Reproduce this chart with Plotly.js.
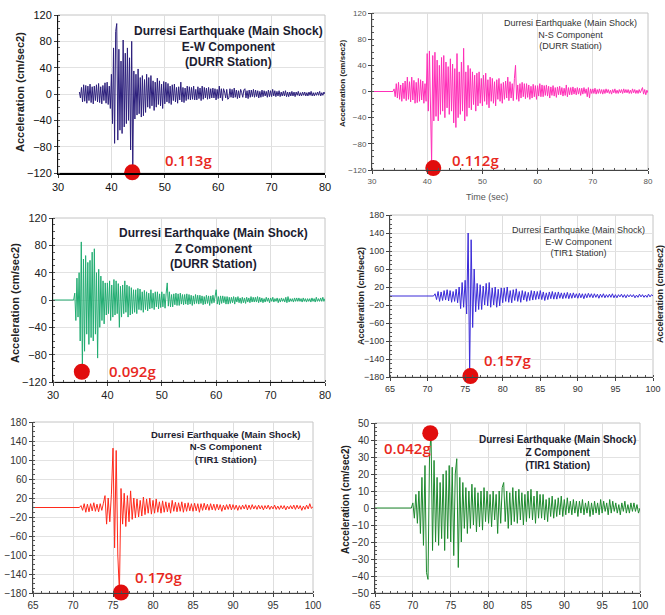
<!DOCTYPE html>
<html><head><meta charset="utf-8">
<script src="https://cdn.plot.ly/plotly-3.0.1.min.js"></script>
<style>html,body{margin:0;padding:0;background:#fff}#chart{width:665px;height:615px}</style>
</head><body><div id="chart"></div>
<script>
// Acceleration records (cm/sec2), sampled every 0.2 s
const durrEW = [
3,-6,10,-12,14, -11,13,-14,12,-10, 15,-13,11,-15,12, -10,14,-12,16,-13, 11,-15,13,-10,17, -14,18,-16,12,-22,
30,-45,70,-75,95, 107,-70,68,-55,50, -60,82,-50,62,-45, 70,-40,55,-85,80, -118,35,-38,30,-32,
38,-30,25,-35,28, -33,22,-28,30,-20, 25,-22,28,-18,20, -25,18,-20,24,-16, 20,-18,15,-22,19,
-15,18,-12,16,-14, 12,-16,14,-10,15, -12,10,-14,11,-9, 18,-12,10,-13,9, -10,12,-8,11,-9,
10,-8,12,-9,7, -9,11,-7,9,-10, 12,-8,10,-6,9, -8,10,-7,8,-6, 9,-6,8,-9,7,
-7,12,-6,8,-10, 8,3,-6,7,-8, -6,8,-5,7,-6, 9,-5,6,-7,5, -6,7,2,-5,6,
8,-6,5,-7,6, -5,6,-4,7,-5, 6,-4,5,-6,4, -5,6,-4,5,-3, 4,-5,6,-4,5,
-4,7,-3,5,-4, 4,-3,5,-4,3, -3,4,-3,5,-4, 3,-4,3,-3,4, -3,3,-4,3,-2,
4,-3,2,-3,3, -2,3,-3,2,-3, 3,-2,4,-3,2, -3,2,-2,3,-2, 4,-3,2,-2,3, 0];
const durrNS = [
0,0,0,0,0, 0,0,0,0,0, 0,0,0,0,0, 0,0,0,0,0,
4,-8,12,-10,14, -12,10,-15,13,-11, 16,-14,22,-12,15, -16,22,-13,17,-18, 14,-17,20,-15,18, -13,16,-18,12,-15,
58,-30,62,-50,-110, 55,-45,60,-38,48, -45,40,-35,52,-30, 55,-40,45,-25,38, -35,50,-30,42,-48,
35,-55,58,-40,30, -35,45,-30,66,-45, 30,-38,40,-25,35, -28,30,-20,25,-30, 28,-22,30,-18,20,
-22,25,-15,28,-20, 18,-25,22,-15,20, -18,15,-22,18,-12, 20,-15,12,-18,14, -12,16,-10,22,-14,
15,-10,12,-14,20, 40,-12,10,-15,12, -10,14,-8,12,-11, 12,-9,10,-12,8, -10,11,-8,9,-12,
9,-7,12,-8,10, -8,9,-6,10,-7, 8,-10,7,-6,9, -7,6,-9,7,-5, 8,-5,6,-7,5,
-6,10,-8,6,-5, 6,-5,7,-4,5, -5,6,-4,5,-6, 5,-4,6,-3,4, -8,6,-10,4,-3,
4,-3,5,-4,3, -3,4,-3,3,-4, 3,-3,4,-2,3, -3,2,-4,3,-2, 4,-3,2,-3,3,
-2,3,-3,4,-2, 3,-2,3,-3,2, -3,4,-2,3,-3, 2,-3,3,-2,4, 6,-4,3,-5,2, -2];
const durrZ = [
0,0,0,0,0, 0,0,0,0,0, 0,0,0,0,0, 0,0,0,0,0,
10,-30,32,-25,40, -60,85,-105,60,-75, 65,-50,55,-65,58, -55,70,-60,75,-50, 40,-85,45,-40,35, -30,28,-35,25,-22,
25,-20,28,-30,22, -25,30,-22,28,-20, 24,-40,20,-25,22, -20,28,-18,22,-25, 20,-22,18,-20,15,
-18,15,-20,17,-14, 16,-15,12,-18,14, -14,12,-16,10,-13, 15,-12,10,-14,12, -10,12,-13,9,-11,
12,-10,9,-12,10, 25,-9,12,-10,8, -10,9,-7,10,-8, 9,-8,10,-6,8, -7,8,-6,9,-7,
8,-6,7,-8,6, -6,8,-5,7,-6, 7,-5,6,-7,5, -6,7,-5,6,-8, 6,-5,7,-4,5,
15,-6,5,-7,6, -5,6,-4,5,-6, 5,-6,4,-5,4, -4,5,-6,4,-3, 5,-4,3,-5,4,
-4,3,-5,4,-3, 3,-4,5,-3,4, -3,4,-3,5,-4, 4,-3,3,-4,2, -3,4,-2,3,-4,
3,-2,4,-3,2, -2,3,-4,2,-3, 3,-2,2,-3,4, -4,5,-3,2,-2, 2,-3,3,-2,3,
-2,3,-2,2,-3, 3,-2,2,-3,2, -2,2,-3,3,-2, 2,-3,4,-2,2, -2,3,-2,4,-2, 2];
const tir1EW = [
0,0,0,0,0, 0,0,0,0,0, 0,0,0,0,0, 0,0,0,0,0, 0,0,0,0,0, 0,0,0,0,0,
5,-8,10,-12,9, -10,12,-9,14,-11, 12,-14,10,-12,15, -15,20,-28,30,-25,
35,-40,140,-175,125, -70,60,-35,28,-30, 25,-30,22,-20,28, -22,30,-25,18,-20, 20,-25,15,-22,18,
-15,18,-12,20,-14, 12,-15,14,-10,16, -12,10,-14,12,-9, 10,-12,8,-10,12, -9,11,-8,10,-7,
12,-8,9,-10,7, -8,9,-6,10,-7, 8,-7,9,-5,7, -6,7,-5,8,-6, 6,-5,7,-4,5,
-5,6,-4,5,-6, 5,-4,6,-3,5, -4,5,-3,4,-5, 4,-3,5,-4,3, -3,4,-3,5,-4,
3,-4,3,-2,4, -3,3,-4,3,-2, 3,-2,3,-4,2, -3,4,-2,3,-3, 2,-3,4,-2,3, 0];
const tir1NS = [
0,0,0,0,0, 0,0,0,0,0, 0,0,0,0,0, 0,0,0,0,0, 0,0,0,0,0, 0,0,0,0,0,
4,-6,8,-10,7, -9,8,-7,10,-8, 7,-9,8,-6,9, 25,-35,20,-30,28,
125,-85,120,-100,-178, 40,-35,30,-40,25, -30,35,-25,20,-22, 18,-20,15,-18,22, -15,18,-12,20,-14,
15,-12,18,-10,12, -12,14,-10,12,-9, 10,-12,15,-8,11, -9,10,-8,12,-10, 9,-8,10,-7,8,
-8,9,-7,8,-10, 8,-6,9,-5,7, -6,8,-5,7,-6, 7,-5,6,-8,5, -5,6,-4,7,-5,
6,-4,5,-6,4, -4,5,-3,6,-5, 5,-4,6,-3,4, -4,5,-3,4,-5, 4,-3,5,-4,3,
-3,5,-4,3,-4, 4,-3,4,-5,3, -3,4,-3,5,-4, 5,-3,4,-6,3, -4,5,-3,8,-2, 2];
const tir1Z = [
0,0,0,0,0, 0,0,0,0,0, 0,0,0,0,0, 0,0,0,0,0, 0,0,0,0,0,
3,-6,8,-9,10, -15,18,-22,25,-38, -42,30,44,-25,28, -20,18,-22,15,-18, 20,-25,22,-18,25,
-20,24,-28,20,29, -35,18,-20,15,-12, 12,-15,10,-12,14, -10,12,-14,9,-11, 10,-13,12,-8,10,
-9,8,-11,10,-7, 8,-15,10,-9,12, 15,-8,10,-12,9, -10,12,-8,10,-9, 11,-7,9,-10,8,
-8,10,-6,11,-7, 7,-9,10,-6,8, -6,8,-7,5,-8, 6,-5,7,-6,5, -5,6,-4,7,-5,
5,-4,6,-3,4, -4,5,-3,4,-5, 4,-3,5,-4,3, -3,4,-5,3,-4, 4,-3,3,-4,5,
-3,4,-2,3,-4, 5,-3,4,-2,3, -3,2,-4,3,-2, 4,-3,2,-3,3, -2,3,-2,2,-3, 0];

const series = [durrEW, durrNS, durrZ, tir1EW, tir1NS, tir1Z];
const startTimes = [34, 30, 30, 65, 65, 65];
const components = ["E-W Component", "N-S Component", "Z Component", "E-W Component", "N-S Component", "Z Component"];
const stations = ["(DURR Station)", "(DURR Station)", "(DURR Station)", "(TIR1 Station)", "(TIR1 Station)", "(TIR1 Station)"];
const pgaLabels = ["0.113g", "0.112g", "0.092g", "0.157g", "0.179g", "0.042g"];
const pgaTime = [43.9, 41.1, 35.3, 75.7, 76.0, 72.3];
const pgaAcc = [-119, -117, -105, -178, -179, 44];
const pgaLabelTime = [49.7, 44.1, 39.9, 77.3, 77.5, 65.9];
const pgaLabelAcc = [-100, -105, -104, -142, -146, 35];
const xRanges = [[30, 80], [30, 80], [30, 80], [65, 100], [65, 100], [65, 100]];
const yRanges = [[-120, 120], [-120, 120], [-120, 120], [-180, 180], [-180, 180], [-50, 50]];
const yTickStep = [40, 40, 40, 40, 40, 10];
const xTickStep = [10, 10, 10, 5, 5, 5];

// ---------- presentation ----------
const W = 665, H = 615;
const colors = ["#2c1f7c", "#ff2fb8", "#22ad72", "#3a2ad8", "#ff2a1c", "#1e8a2e"];
const boxes = [ // pixel boxes [x0,x1,y0,y1]
  [58, 325, 15, 173], [372, 648, 13, 170], [53, 325, 218, 382],
  [390, 653, 215, 377], [33, 313, 422, 593], [375, 640, 423, 593]];
const tickSize = [11, 8, 11, 9, 10, 10];
const tickColor = ["#111", "#555", "#222", "#333", "#333", "#333"];
const axisLine = ["#111", "#444", "#111", "#444", "#444", "#444"];
const xGrid = [true, true, true, true, true, true];
const yGrid = [true, false, true, true, true, true];

const data = [];
const layout = {width: W, height: H, autosize: false, margin: {l: 0, r: 0, t: 0, b: 0},
  paper_bgcolor: "#fff", plot_bgcolor: "#fff", showlegend: false,
  annotations: [], shapes: []};

for (let i = 0; i < 6; i++) {
  const s = i === 0 ? "" : String(i + 1);
  const [px0, px1, py0, py1] = boxes[i];
  data.push({type: "scatter", mode: "lines", x0: startTimes[i], dx: 0.2, y: series[i],
    xaxis: "x" + s, yaxis: "y" + s, line: {color: colors[i], width: 1}, hoverinfo: "skip"});
  data.push({type: "scatter", mode: "markers", x: [pgaTime[i]], y: [pgaAcc[i]],
    xaxis: "x" + s, yaxis: "y" + s, cliponaxis: false,
    marker: {size: 16, color: "#e10d0d"}, hoverinfo: "skip"});
  const tf = {family: "Liberation Sans, Arial", size: tickSize[i], color: tickColor[i]};
  layout["xaxis" + s] = {domain: [px0 / W, px1 / W], range: xRanges[i], anchor: "y" + s,
    dtick: xTickStep[i], tick0: 0, showline: true, linecolor: i === 0 ? "#000" : axisLine[i],
    linewidth: i === 0 ? 2 : 1, ticks: "outside", ticklen: 3, tickcolor: "#444",
    showgrid: xGrid[i], gridcolor: "#dedede", zeroline: false, tickfont: tf,
    minor: i === 0 ? undefined : {ticks: "inside", ticklen: 2, dtick: xTickStep[i] / 5, tickcolor: "#555"}};
  layout["yaxis" + s] = {domain: [1 - py1 / H, 1 - py0 / H], range: yRanges[i], anchor: "x" + s,
    dtick: yTickStep[i], tick0: yRanges[i][0], showline: true, linecolor: axisLine[i], linewidth: 1,
    ticks: "outside", ticklen: 3, tickcolor: "#444", showgrid: yGrid[i],
    gridcolor: "#e2e2e2", zeroline: false, tickfont: tf,
    minor: {ticks: "inside", ticklen: 2, dtick: yTickStep[i] / 4, tickcolor: "#555"}};
  layout.shapes.push({type: "rect", xref: "x" + s + " domain", yref: "y" + s + " domain",
    x0: 0, x1: 1, y0: 0, y1: 1, line: {color: "#c4c4c4", width: 1}, layer: "below"});
  layout.annotations.push({xref: "x" + s, yref: "y" + s, x: pgaLabelTime[i], y: pgaLabelAcc[i],
    text: pgaLabels[i], showarrow: false, xanchor: "left", yanchor: "middle",
    font: {family: "Open Sans", size: 15, color: "#e8281e", weight: 600}});
}

// panel titles
const titleX = [228, 570, 213, 578, 225, 557];
const titleY = [47, 34, 248, 241, 447, 452];
const titleSize = [12, 9, 12, 9, 9.5, 10];
const titleBold = [true, false, true, false, true, true];
for (let i = 0; i < 6; i++) {
  layout.annotations.push({xref: "paper", yref: "paper", x: titleX[i] / W, y: 1 - titleY[i] / H,
    xanchor: "center", yanchor: "middle", showarrow: false, align: "center",
    text: "Durresi Earthquake (Main Shock)<br>" + components[i] + "<br>" + stations[i],
    font: {family: "Liberation Sans, Arial", size: titleSize[i], color: titleBold[i] ? "#1c1c30" : "#333",
      weight: titleBold[i] ? "bold" : "normal"}});
}
// axis titles
const yTitles = [[20, 92, 11], [342, 83, 8], [15, 303, 11], [361, 296, 9], [660, 294, 9], [345, 500, 10]];
yTitles.forEach(([px, py, fs]) => layout.annotations.push({xref: "paper", yref: "paper",
  x: px / W, y: 1 - py / H, textangle: -90, showarrow: false, xanchor: "center", yanchor: "middle",
  text: "Acceleration (cm/sec2)", font: {family: "Liberation Sans, Arial", size: fs, color: "#222", weight: "bold"}}));
layout.annotations.push({xref: "paper", yref: "paper", x: 510 / W, y: 1 - 190 / H, showarrow: false,
  text: "Time (sec)", font: {family: "Liberation Sans, Arial", size: 9, color: "#555"}});

Plotly.newPlot("chart", data, layout, {staticPlot: true, displayModeBar: false});
</script></body></html>
